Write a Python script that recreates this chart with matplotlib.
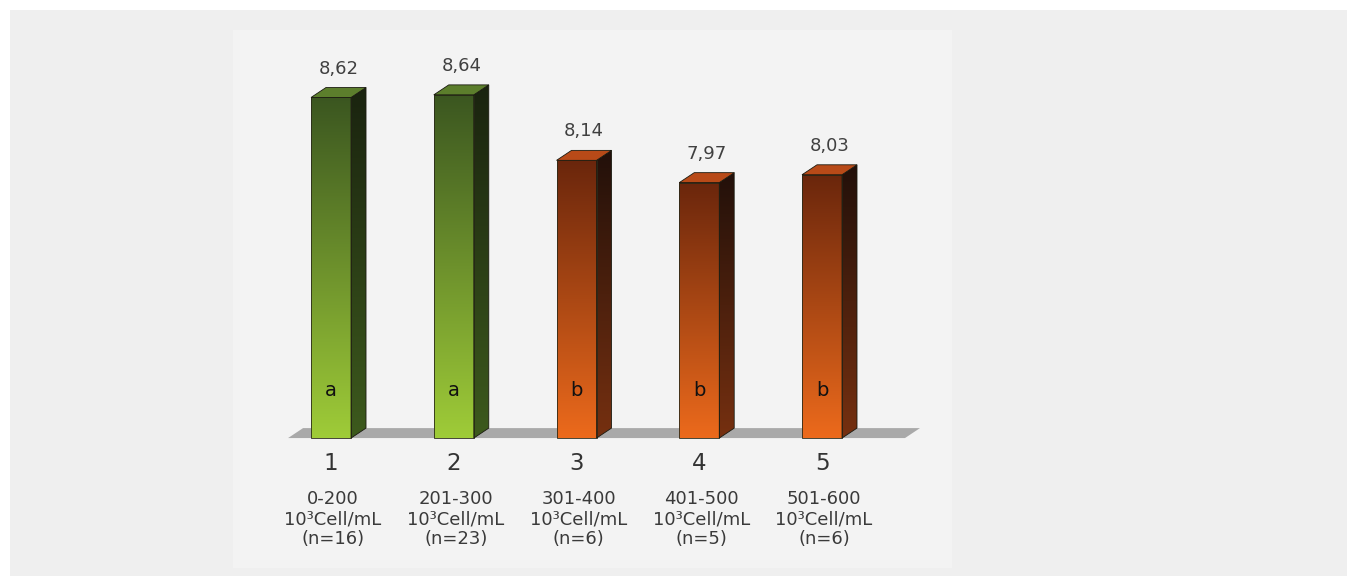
import numpy as np
from matplotlib import pyplot as plt
from matplotlib.patches import Polygon, Rectangle
from matplotlib.colors import to_rgb

groups = ['1', '2', '3', '4', '5']
ranges = ['0-200', '201-300', '301-400', '401-500', '501-600']
n_values = [16, 23, 6, 5, 6]
means = [8.62, 8.64, 8.14, 7.97, 8.03]
letters = ['a', 'a', 'b', 'b', 'b']

# colours per letter group: front (top, bottom), side (top, bottom), top face
palette = {
    'a': {'front': ('#3b5620', '#9fcc38'), 'side': ('#1a230f', '#3d5a1d'), 'top': '#5c7e2c'},
    'b': {'front': ('#6a260c', '#ec6a1c'), 'side': ('#22100a', '#763010'), 'top': '#b84a18'},
}

base = 6.02
bar_w = 0.326
dx, dy = 0.122, 0.076


def gradient(top, bottom, n=256):
    t = np.linspace(0, 1, n)[:, None]
    c0 = np.array(to_rgb(bottom))
    c1 = np.array(to_rgb(top))
    arr = c0 + (c1 - c0) * t
    return arr[:, None, :]


fig = plt.figure(figsize=(13.47, 5.76), dpi=100)
fig.patch.set_facecolor('white')
fig.patches.append(Rectangle((10 / 1347, 0), 1, 1 - 10 / 576, transform=fig.transFigure,
                             facecolor='#efefef', edgecolor='none', zorder=-2))
fig.patches.append(Rectangle((233 / 1347, 8 / 576), (952 - 233) / 1347, (568 - 30) / 576,
                             transform=fig.transFigure, facecolor='#f3f3f3',
                             edgecolor='none', zorder=-1))

ax = fig.add_axes([0, 0, 1, 1])
ax.set_zorder(1)
ax.set_facecolor('none')
ax.axis('off')

x = np.arange(len(means))

# floor
fl, fr = x[0] - 0.35, x[-1] + 0.676
floor = Polygon([(fl, base), (fr, base), (fr + dx, base + dy), (fl + dx, base + dy)],
                closed=True, facecolor='#a9a9a9', edgecolor='none', zorder=1)
ax.add_patch(floor)

for xi, v, let in zip(x, means, letters):
    col = palette[let]
    x0, x1 = xi - bar_w / 2, xi + bar_w / 2
    # front face
    ax.imshow(gradient(*col['front']), extent=(x0, x1, base, v), origin='lower',
              aspect='auto', interpolation='bilinear', zorder=3)
    ax.add_patch(Rectangle((x0, base), bar_w, v - base, facecolor='none',
                           edgecolor='#2a2a1a', lw=0.6, zorder=4))
    # side face
    side = Polygon([(x1, base), (x1 + dx, base + dy), (x1 + dx, v + dy), (x1, v)],
                   closed=True, facecolor='none', edgecolor='#1a1a10', lw=0.6, zorder=4)
    ax.add_patch(side)
    im = ax.imshow(gradient(*col['side']), extent=(x1, x1 + dx, base, v + dy),
                   origin='lower', aspect='auto', interpolation='bilinear', zorder=3)
    im.set_clip_path(side)
    # top face
    ax.add_patch(Polygon([(x0, v), (x1, v), (x1 + dx, v + dy), (x0 + dx, v + dy)],
                         closed=True, facecolor=col['top'], edgecolor='#1a1a10',
                         lw=0.6, zorder=4))
    # value label
    ax.annotate(f'{v:.2f}'.replace('.', ','), (xi + dx / 2, v + dy), xytext=(0, 10),
                textcoords='offset pixels', ha='center', va='bottom',
                fontsize=13, color='#404040')
    # group letter
    ax.annotate(let, (xi, base), xytext=(0, 48), textcoords='offset pixels',
                ha='center', va='center', fontsize=14, color='#111111', zorder=5)

for xi, g, r, n in zip(x, groups, ranges, n_values):
    ax.annotate(g, (xi, base), xytext=(0, -25), textcoords='offset pixels',
                ha='center', va='center', fontsize=16.5, color='#333333')
    ax.annotate(f'{r}\n10³Cell/mL\n(n={n})', (xi, base), xytext=(2, -81),
                textcoords='offset pixels', ha='center', va='center',
                fontsize=13, color='#3a3a3a', linespacing=1.15)

ax.set_xlim(-2.697, 8.277)
ax.set_ylim(4.967, 9.364)

plt.savefig('out.png', dpi=100, facecolor=fig.get_facecolor())
